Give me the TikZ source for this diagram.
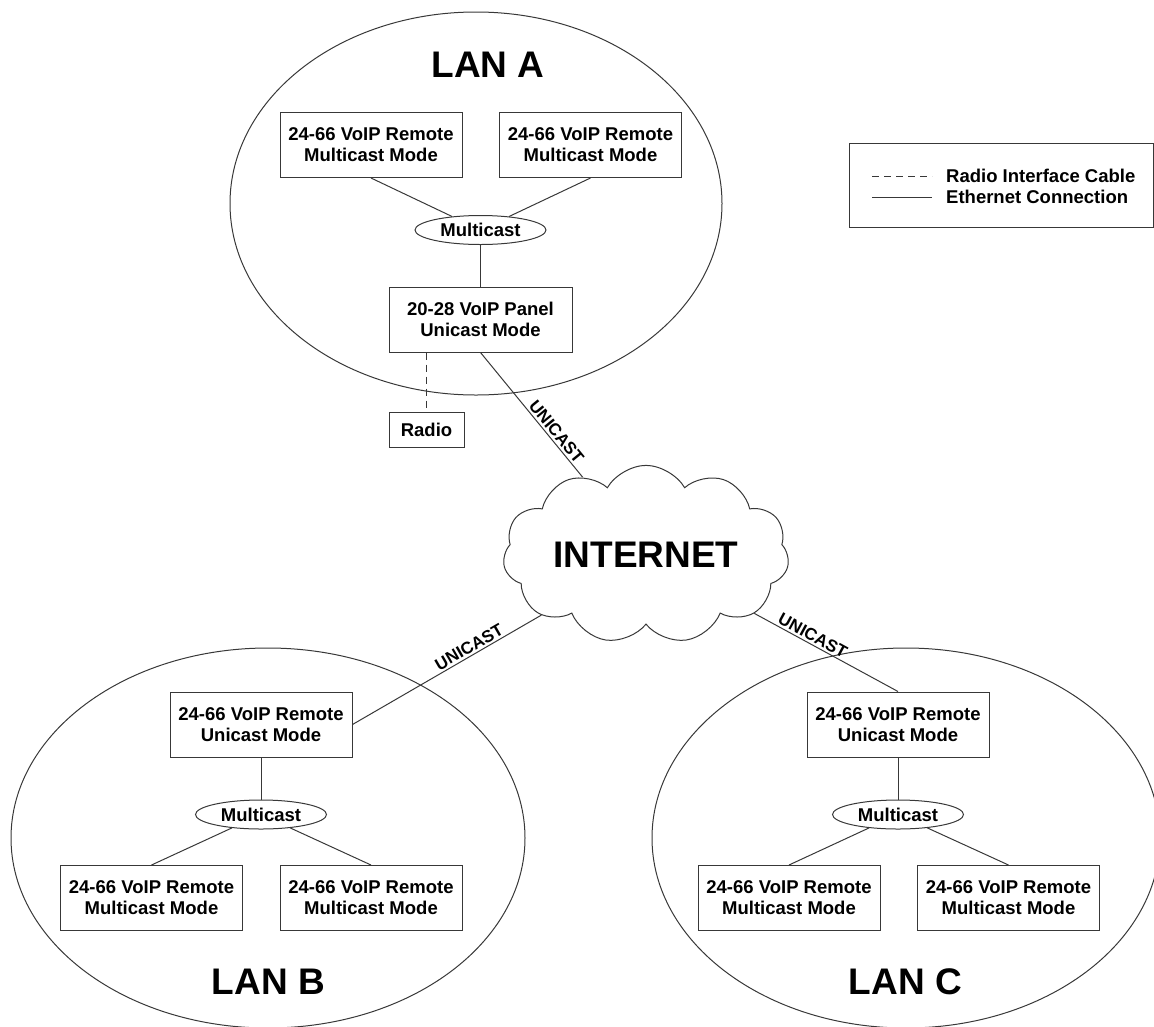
\documentclass[tikz,border=0pt]{standalone}
\usepackage{fontspec}
\setmainfont{Liberation Sans}
\usetikzlibrary{shapes.geometric,shapes.symbols,positioning}

\begin{document}
\begin{tikzpicture}[x=1pt, y=-1pt,
    every node/.style={font=\bfseries\fontsize{18.5}{21}\selectfont, text=black, align=center},
    line/.style={draw=black!78, line width=1pt},
    device/.style={line, rectangle, minimum width=182pt, minimum height=65pt, inner sep=0pt},
    hub/.style={line, ellipse, minimum width=131pt, minimum height=29pt, inner sep=0pt},
    lan/.style={line, ellipse, inner sep=0pt},
    lantitle/.style={font=\bfseries\fontsize{37}{40}\selectfont, inner sep=0pt},
    radiocable/.style={line, dash pattern=on 7pt off 5pt},
    tag/.style={font=\bfseries\fontsize{17}{19}\selectfont, sloped, above, inner sep=2pt},
    ]
  \useasboundingbox (0,0) rectangle (1154,1026);

  % LAN A
  \node[lan, minimum width=492pt, minimum height=383pt] (lanA) at (476,203.5) {};
  \node[lantitle] (titleA) at (488,65) {LAN A};
  \node[device] (remA1) at (371,145) {24-66 VoIP Remote\\Multicast Mode};
  \node[device] (remA2) at (590.5,145) {24-66 VoIP Remote\\Multicast Mode};
  \node[hub] (hubA) at (480.5,230) {Multicast};
  \node[device, minimum width=183pt] (panel) at (480.5,319.5) {20-28 VoIP Panel\\Unicast Mode};
  \node[line, rectangle, minimum width=75pt, minimum height=35pt, inner sep=0pt] (radio) at (426.5,429.5) {Radio};

  % internet
  \node[line, cloud, cloud puffs=11, cloud puff arc=120, aspect=1.85,
        minimum width=286pt, minimum height=155pt, inner sep=0pt,
        font=\bfseries\fontsize{37}{40}\selectfont] (inet) at (646,554.5) {INTERNET};

  % LAN B
  \node[lan, minimum width=514pt, minimum height=380pt] (lanB) at (268,838) {};
  \node[device] (remB1) at (261,724.5) {24-66 VoIP Remote\\Unicast Mode};
  \node[hub, below=42pt of remB1] (hubB) {Multicast};
  \node[device] (remB2) at (151.5,898) {24-66 VoIP Remote\\Multicast Mode};
  \node[device] (remB3) at (371,898) {24-66 VoIP Remote\\Multicast Mode};
  \node[lantitle] (titleB) at (268.5,982) {LAN B};

  % LAN C
  \node[lan, minimum width=508pt, minimum height=380pt] (lanC) at (906,838) {};
  \node[device] (remC1) at (898,724.5) {24-66 VoIP Remote\\Unicast Mode};
  \node[hub, below=42pt of remC1] (hubC) {Multicast};
  \node[device] (remC2) at (789,898) {24-66 VoIP Remote\\Multicast Mode};
  \node[device] (remC3) at (1008.5,898) {24-66 VoIP Remote\\Multicast Mode};
  \node[lantitle] (titleC) at (905.5,982) {LAN C};

  % legend
  \node[line, rectangle, minimum width=304pt, minimum height=84pt] (legend) at (1001,185) {};
  \coordinate (dashL) at (872,176);
  \coordinate (dashR) at (932,176);
  \coordinate (solidL) at (872,197);
  \coordinate (solidR) at (932,197);
  \draw[radiocable] (dashL) -- (dashR);
  \draw[line] (solidL) -- (solidR);
  \node[anchor=west, inner sep=0pt] (keyradio) at (946,176) {Radio Interface Cable};
  \node[anchor=west, inner sep=0pt] (keyether) at (946,197) {Ethernet Connection};

  % connections
  \draw[line] (remA1.south) -- (hubA);
  \draw[line] (remA2.south) -- (hubA);
  \draw[line] (hubA) -- (panel);
  \draw[radiocable] (radio.north |- panel.south) -- (radio.north);
  \draw[line] (panel.south) -- (inet) node[tag, pos=0.68] {UNICAST};

  \draw[line] (remB1.east) -- (inet) node[tag, pos=0.64] {UNICAST};
  \draw[line] (remB1) -- (hubB);
  \draw[line] (hubB) -- (remB2.north);
  \draw[line] (hubB) -- (remB3.north);

  \draw[line] (inet) -- (remC1.north) node[tag, pos=0.38] {UNICAST};
  \draw[line] (remC1) -- (hubC);
  \draw[line] (hubC) -- (remC2.north);
  \draw[line] (hubC) -- (remC3.north);

\end{tikzpicture}
\end{document}
